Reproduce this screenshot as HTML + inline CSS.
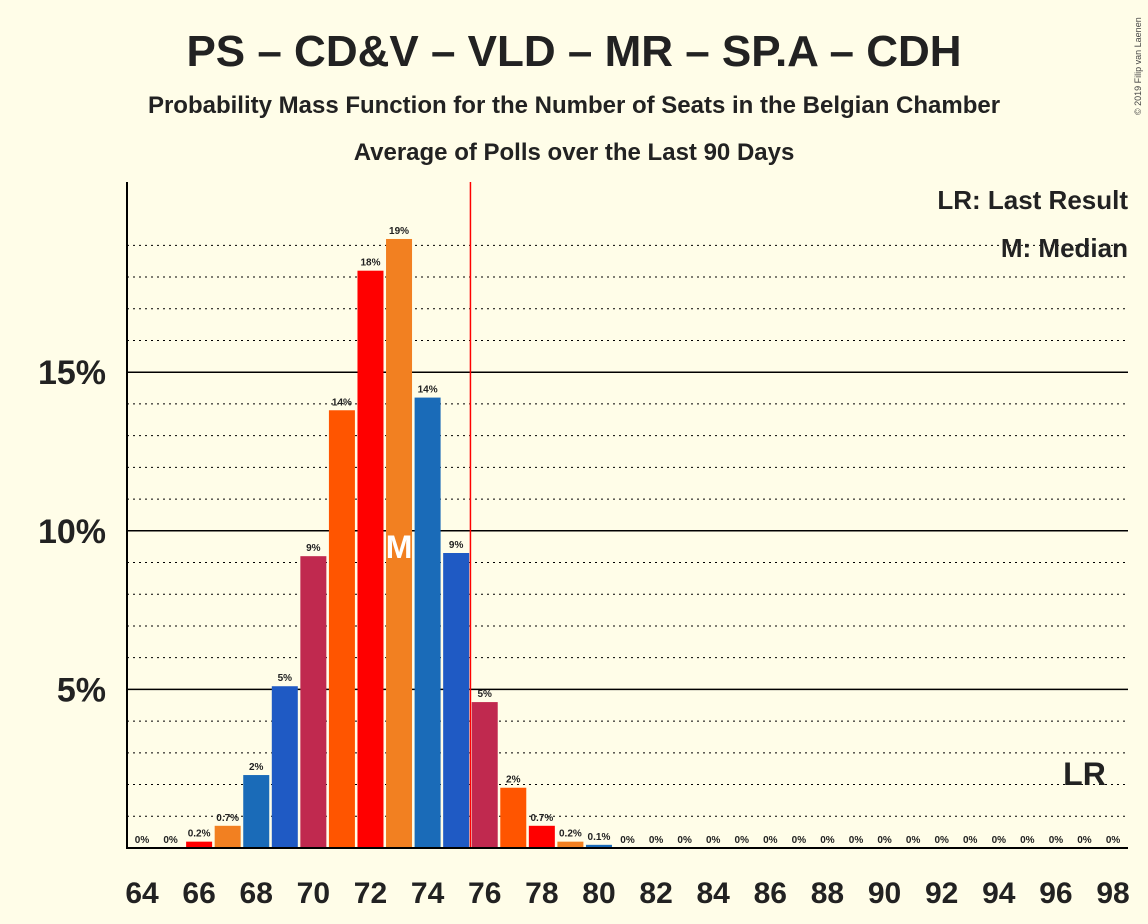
<!DOCTYPE html>
<html><head><meta charset="utf-8">
<style>
body{margin:0;background:#fffde8;}
svg{display:block;font-family:"Liberation Sans",sans-serif;}
</style></head>
<body>
<svg id="chart" width="1148" height="924">
<rect width="1148" height="924" fill="#fffde8"/>
<text x="574" y="66" text-anchor="middle" font-size="44" font-weight="bold" fill="#222">PS – CD&amp;V – VLD – MR – SP.A – CDH</text>
<text x="574" y="113" text-anchor="middle" font-size="24" font-weight="bold" fill="#222">Probability Mass Function for the Number of Seats in the Belgian Chamber</text>
<text x="574" y="160" text-anchor="middle" font-size="24" font-weight="bold" fill="#222">Average of Polls over the Last 90 Days</text>
<text x="1141" y="115" font-size="9" fill="#444" transform="rotate(-90 1141 115)">© 2019 Filip van Laenen</text>
<g id="grid"></g>
<g id="bars"></g>
<g id="labels"></g>
<line x1="127" y1="182" x2="127" y2="849" stroke="#000" stroke-width="2"/>
<line x1="127" y1="848" x2="1128" y2="848" stroke="#000" stroke-width="2"/>
<text x="1128" y="209" text-anchor="end" font-size="26" font-weight="bold" fill="#222">LR: Last Result</text>
<text x="1128" y="257" text-anchor="end" font-size="26" font-weight="bold" fill="#222">M: Median</text>
</svg>
<script>
const seats=[64,65,66,67,68,69,70,71,72,73,74,75,76,77,78,79,80,81,82,83,84,85,86,87,88,89,90,91,92,93,94,95,96,97,98];
const probs=[0,0,0.2,0.7,2.3,5.1,9.2,13.8,18.2,19.2,14.2,9.3,4.6,1.9,0.7,0.2,0.1,0,0,0,0,0,0,0,0,0,0,0,0,0,0,0,0,0,0];
const valueLabels=["0%","0%","0.2%","0.7%","2%","5%","9%","14%","18%","19%","14%","9%","5%","2%","0.7%","0.2%","0.1%","0%","0%","0%","0%","0%","0%","0%","0%","0%","0%","0%","0%","0%","0%","0%","0%","0%","0%"];
const yTicks=[5,10,15];
const yTickLabels=["5%","10%","15%"];
const medianSeat=73, lastResultSeat=97, majority=75.5;
const NS="http://www.w3.org/2000/svg";
const x=s=>142+(s-64)*28.56;
const y=p=>848-p*31.72;
const colors=["#ff0000","#f28021","#1a6bb8","#1f5ac4","#c0294f","#ff5500"];
function mk(t,a,parent){const e=document.createElementNS(NS,t);for(const k in a)e.setAttribute(k,a[k]);document.getElementById(parent).appendChild(e);return e;}
for(let p=1;p<=19;p++){
  const solid=p%5===0;
  const l=mk('line',{x1:127,x2:1128,y1:y(p),y2:y(p),stroke:'#000','stroke-width':solid?1.5:1,'stroke-dasharray':solid?'none':'2,4'},'grid');
  
  
}
yTicks.forEach((t,i)=>{
  const e=mk('text',{x:106,y:y(t)+12,'text-anchor':'end','font-size':34,'font-weight':'bold',fill:'#222'},'labels');
  e.textContent=yTickLabels[i];
  
  
});
seats.forEach((s,i)=>{
  const p=probs[i];
  if(p>0){
    const r=mk('rect',{x:x(s)-13,y:y(p),width:26,height:848-y(p),fill:colors[((s-66)%6+6)%6]},'bars');
    
    
  }
  const t=mk('text',{x:x(s),y:y(p)-5,'text-anchor':'middle','font-size':10,'font-weight':'bold',fill:'#222'},'labels');
  t.textContent=valueLabels[i];
  
  
  if(s%2===0){
    const xl=mk('text',{x:x(s),y:903,'text-anchor':'middle','font-size':30,'font-weight':'bold',fill:'#222'},'labels');
    xl.textContent=s;
    
    
  }
});
const ml=mk('line',{x1:x(majority),x2:x(majority),y1:182,y2:848,stroke:'#ff0000','stroke-width':1.5},'labels');


const mt=mk('text',{x:x(medianSeat),y:558,'text-anchor':'middle','font-size':32,'font-weight':'bold',fill:'#fff'},'labels');
mt.textContent='M';


const lr=mk('text',{x:x(lastResultSeat),y:785,'text-anchor':'middle','font-size':32,'font-weight':'bold',fill:'#222'},'labels');
lr.textContent='LR';


</script>
</body></html>
